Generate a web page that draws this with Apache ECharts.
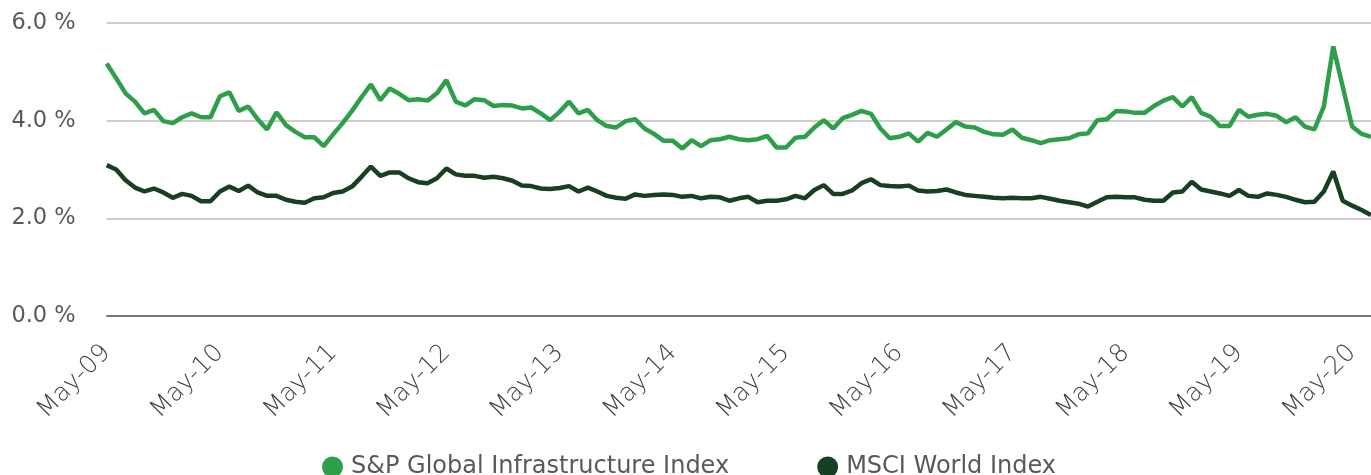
<!DOCTYPE html>
<html>
<head>
<meta charset="utf-8">
<script src="https://cdn.jsdelivr.net/npm/echarts@6/dist/echarts.min.js"></script>
<style>
html,body{margin:0;padding:0;background:#fff;}
#chart{width:1371px;height:475px;}
</style>
</head>
<body>
<div id="chart"></div>
<script>
// Month-end categories, May-09 .. Jul-20
const monthNames = ['Jan','Feb','Mar','Apr','May','Jun','Jul','Aug','Sep','Oct','Nov','Dec'];
const startYear = 2009, startMonth = 4, monthCount = 135;
const categories = [];
for (let k = 0; k < monthCount; k++) {
  const m = (startMonth + k) % 12;
  const y = startYear + Math.floor((startMonth + k) / 12);
  categories.push(monthNames[m] + '-' + String(y % 100).padStart(2, '0'));
}

const seriesNames = ['S&P Global Infrastructure Index', 'MSCI World Index'];

const infraYield = [
  5.17,4.87,4.56,4.39,4.15,4.22,3.99,3.95,4.07,4.15,4.07,4.07,
  4.50,4.58,4.20,4.29,4.03,3.82,4.17,3.91,3.77,3.66,3.66,3.48,
  3.72,3.95,4.20,4.48,4.74,4.42,4.66,4.55,4.42,4.44,4.41,4.56,
  4.83,4.39,4.31,4.44,4.42,4.30,4.32,4.31,4.25,4.27,4.15,4.01,
  4.18,4.39,4.15,4.22,4.01,3.89,3.86,3.99,4.03,3.84,3.73,3.59,
  3.59,3.43,3.60,3.48,3.60,3.62,3.67,3.62,3.60,3.62,3.69,3.45,
  3.45,3.65,3.67,3.86,4.01,3.84,4.05,4.12,4.20,4.14,3.84,3.64,
  3.67,3.74,3.57,3.75,3.67,3.82,3.97,3.88,3.86,3.77,3.72,3.71,
  3.82,3.65,3.60,3.54,3.60,3.62,3.64,3.72,3.74,4.01,4.03,4.20,
  4.19,4.16,4.16,4.30,4.41,4.48,4.29,4.48,4.16,4.08,3.89,3.89,
  4.22,4.08,4.12,4.14,4.10,3.97,4.07,3.88,3.82,4.29,5.52,4.70,
  3.88,3.73,3.67
];

const msciYield = [
  3.09,3.00,2.78,2.63,2.55,2.61,2.53,2.42,2.50,2.46,2.35,2.35,
  2.55,2.65,2.56,2.67,2.53,2.46,2.46,2.38,2.34,2.32,2.41,2.43,
  2.52,2.55,2.65,2.85,3.06,2.87,2.94,2.94,2.82,2.74,2.72,2.82,
  3.02,2.90,2.87,2.87,2.83,2.85,2.82,2.77,2.67,2.66,2.61,2.60,
  2.62,2.66,2.55,2.63,2.55,2.46,2.42,2.40,2.49,2.46,2.48,2.49,
  2.48,2.44,2.46,2.41,2.44,2.43,2.36,2.41,2.44,2.33,2.36,2.36,
  2.39,2.46,2.41,2.58,2.68,2.50,2.50,2.57,2.72,2.80,2.68,2.66,
  2.65,2.67,2.57,2.55,2.56,2.59,2.53,2.48,2.46,2.44,2.42,2.41,
  2.42,2.41,2.41,2.44,2.40,2.36,2.33,2.30,2.24,2.34,2.43,2.44,
  2.43,2.43,2.38,2.36,2.36,2.53,2.55,2.75,2.59,2.55,2.51,2.46,
  2.58,2.46,2.44,2.51,2.48,2.44,2.38,2.33,2.34,2.55,2.96,2.36,
  2.26,2.17,2.07
];

const yTicks = [0, 2, 4, 6];
const colors = ['#2e9f49', '#173f21'];

const chart = echarts.init(document.getElementById('chart'), null, {renderer: 'canvas'});
chart.setOption({
  animation: false,
  backgroundColor: '#ffffff',
  color: colors,
  grid: {left: 106.7, width: 1267.6, top: 23, bottom: 159, containLabel: false},
  legend: {
    data: seriesNames.map(n => ({name: n, icon: 'circle'})),
    left: 317, top: 450,
    itemWidth: 21, itemHeight: 21, itemGap: 88,
    textStyle: {color: '#595959', fontSize: 24, fontFamily: 'DejaVu Sans', padding: [0, 0, 0, 3]}
  },
  xAxis: {
    type: 'category',
    data: categories,
    boundaryGap: false,
    axisLine: {show: true, lineStyle: {color: '#5a5a5a', width: 1.5}},
    axisTick: {show: false},
    splitLine: {show: false},
    axisLabel: {
      interval: 11,
      rotate: 45,
      margin: 33,
      color: '#3f3f3f',
      fontSize: 25,
      fontWeight: 200,
      fontFamily: 'DejaVu Sans'
    }
  },
  yAxis: {
    type: 'value',
    min: yTicks[0], max: yTicks[yTicks.length - 1], interval: 2,
    axisLine: {show: false},
    axisTick: {show: false},
    splitLine: {show: true, lineStyle: {color: '#bdbdbd', width: 1.5}},
    axisLabel: {
      margin: 31,
      color: '#595959',
      fontSize: 22.5,
      fontFamily: 'DejaVu Sans',
      formatter: v => v.toFixed(1) + ' %'
    }
  },
  series: [
    {name: seriesNames[0], type: 'line', data: infraYield, showSymbol: false, symbol: 'none',
     lineStyle: {width: 4.5, color: colors[0]}, z: 3},
    {name: seriesNames[1], type: 'line', data: msciYield, showSymbol: false, symbol: 'none',
     lineStyle: {width: 4.5, color: colors[1]}, z: 2}
  ]
});
</script>
</body>
</html>
